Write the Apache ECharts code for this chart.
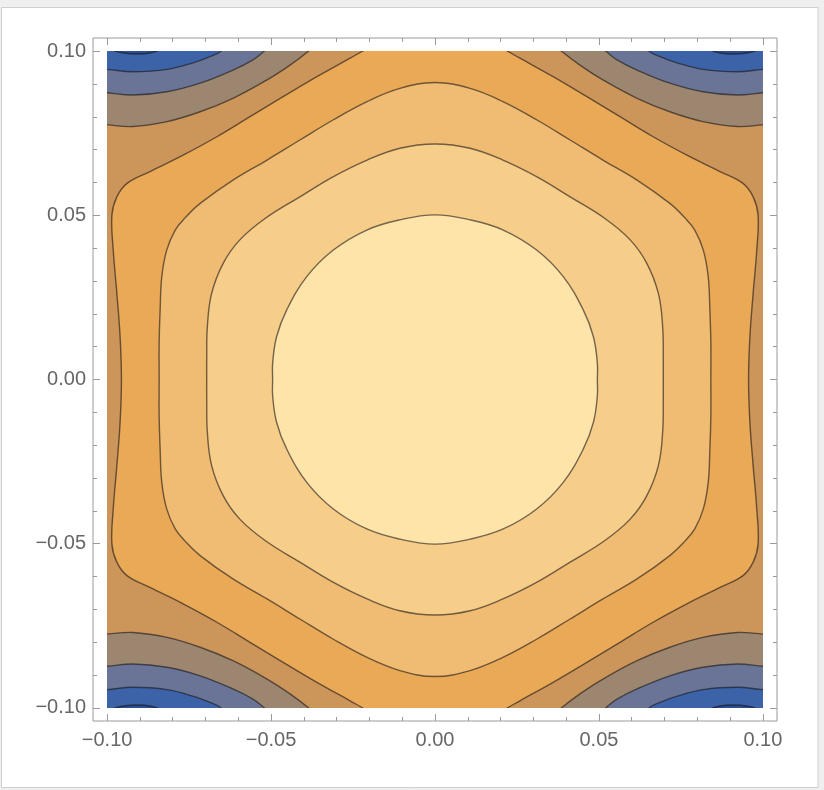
<!DOCTYPE html>
<html>
<head>
<meta charset="utf-8">
<script src="https://cdn.jsdelivr.net/npm/echarts@6/dist/echarts.min.js"></script>
<style>
html, body { margin: 0; padding: 0; background: #efefef; }
#main { width: 824px; height: 790px; }
</style>
</head>
<body>
<div id="main"></div>
<script>
// tick values
let majorTicks = [-0.1, -0.05, 0, 0.05, 0.1]
let minorTicks = [-0.09, -0.08, -0.07, -0.06, -0.04, -0.03, -0.02, -0.01,
    0.01, 0.02, 0.03, 0.04, 0.06, 0.07, 0.08, 0.09]

// closed contours, top-left quarter only (top -> left edge of the quarter)
let ring1 = [[0, 0.0501], [-0.0107, 0.0486], [-0.0208, 0.0455], [-0.031, 0.0394], [-0.0391, 0.0313],
    [-0.0452, 0.0212], [-0.0483, 0.013], [-0.0495, 0.0049], [-0.0495, 0]]
let ring2 = [[0, 0.0717], [-0.0107, 0.0704], [-0.0207, 0.0668], [-0.0311, 0.0617], [-0.0412, 0.0556],
    [-0.0518, 0.049], [-0.0595, 0.0425], [-0.0645, 0.0355], [-0.0681, 0.0262], [-0.0694, 0.0161],
    [-0.0696, 0.0059], [-0.0696, 0]]
let ring3 = [[0, 0.0904], [-0.0107, 0.0886], [-0.0207, 0.0846], [-0.0311, 0.079], [-0.0412, 0.0729],
    [-0.0512, 0.0668], [-0.0616, 0.0607], [-0.0716, 0.0536], [-0.0762, 0.0492], [-0.0792, 0.0455],
    [-0.0818, 0.0394], [-0.0833, 0.0313], [-0.0838, 0.0212], [-0.0841, 0.0111], [-0.0841, 0]]
// this one leaves the plot at the top (first point lies outside)
let ring4 = [[0, 0.112], [-0.022, 0.1], [-0.0259, 0.0978], [-0.036, 0.0922], [-0.0463, 0.0861],
    [-0.0564, 0.08], [-0.0665, 0.0739], [-0.0768, 0.0683], [-0.0869, 0.0633], [-0.0939, 0.0597],
    [-0.097, 0.0556], [-0.0985, 0.0501], [-0.0981, 0.0394], [-0.097, 0.0263], [-0.096, 0.0129],
    [-0.0956, 0]]

// corner contours, top-left corner (left edge -> top edge, end points just outside)
let band1 = [[-0.107, 0.0778], [-0.1, 0.0775], [-0.0921, 0.077], [-0.0817, 0.0785], [-0.0716, 0.0815],
    [-0.0616, 0.0856], [-0.0512, 0.0912], [-0.0442, 0.0957], [-0.0385, 0.1], [-0.034, 0.104]]
let band2 = [[-0.107, 0.0878], [-0.1, 0.0873], [-0.0921, 0.0866], [-0.0817, 0.0876], [-0.0716, 0.0902],
    [-0.0616, 0.0942], [-0.0555, 0.0973], [-0.052, 0.1], [-0.047, 0.104]]
let band3 = [[-0.107, 0.0948], [-0.1, 0.0944], [-0.0921, 0.0937], [-0.0817, 0.0944], [-0.0738, 0.0964],
    [-0.0686, 0.0983], [-0.0652, 0.1], [-0.062, 0.104]]
let band4 = [[-0.0985, 0.1005], [-0.095, 0.0994], [-0.091, 0.0991], [-0.087, 0.0994], [-0.0845, 0.1005]]

let plotRange = [-0.1, 0.1]

let colors = ['#cc955a', '#9d8670', '#6a7496', '#3c63a8', '#2c4c93',
    '#e9a957', '#f0bb72', '#f7cd8a', '#fee4a9']
let lineColor = 'rgba(25, 22, 20, 0.6)'

// whole loop from a top-left quarter (mirror in both axes)
function fullRing(q) {
    let a = q
    let b = q.slice().reverse().map(p => [p[0], -p[1]])
    let c = q.map(p => [-p[0], -p[1]])
    let d = q.slice().reverse().map(p => [-p[0], p[1]])
    return a.concat(b.slice(1), c.slice(1), d.slice(1, -1))
}

// same corner band in all four corners
function corners(band) {
    let poly = band.concat([[-0.115, 0.115]])
    return [
        poly,
        poly.map(p => [-p[0], p[1]]),
        poly.map(p => [p[0], -p[1]]),
        poly.map(p => [-p[0], -p[1]])
    ]
}

let layers = []
let lo = plotRange[0], hi = plotRange[1]
layers.push({ points: [[lo, lo], [hi, lo], [hi, hi], [lo, hi]], fill: colors[0], smooth: 0, line: false })
;[band1, band2, band3, band4].forEach((b, i) => {
    corners(b).forEach(p => layers.push({ points: p, fill: colors[i + 1], smooth: 0.4, line: true }))
})
;[ring4, ring3, ring2, ring1].forEach((r, i) => {
    layers.push({ points: fullRing(r), fill: colors[i + 5], smooth: 0.4, line: true })
})

function renderItem(params, api) {
    let layer = layers[params.dataIndex]
    return {
        type: 'polygon',
        shape: { points: layer.points.map(p => api.coord(p)), smooth: layer.smooth },
        style: {
            fill: layer.fill,
            stroke: layer.line ? lineColor : 'none',
            lineWidth: 1.4
        }
    }
}

function fmt(v) {
    return (v < 0 ? '\u2212' : '') + Math.abs(v).toFixed(2)
}

let frameX = 0.1043, frameY = 0.104
let tickColor = '#9a9a9a'
let labelStyle = { color: '#666', fontSize: 20, fontFamily: 'Liberation Sans' }

// frame axis helper: major (with labels) or minor ticks
function frameAxis(pos, values, len, labels, isX) {
    return {
        type: 'value',
        gridIndex: 1,
        position: pos,
        min: isX ? -frameX : -frameY,
        max: isX ? frameX : frameY,
        axisLine: { show: false, onZero: false },
        splitLine: { show: false },
        axisTick: { show: true, inside: true, length: len, customValues: values,
            lineStyle: { color: tickColor, width: 1 } },
        axisLabel: labels ? Object.assign({ show: true, customValues: values, formatter: fmt,
            margin: isX ? 9 : 7 }, labelStyle) : { show: false }
    }
}

var myChart = echarts.init(document.getElementById('main'))

var option = {
    backgroundColor: '#efefef',
    animation: false,
    graphic: [{
        type: 'rect', z: -100,
        shape: { x: 1.5, y: 7.5, width: 816.5, height: 780 },
        style: { fill: '#ffffff', stroke: '#cfcfcf', lineWidth: 1 }
    }],
    grid: [
        { left: 107, top: 51, width: 656, height: 657 },
        { left: 93, top: 38, width: 684, height: 683, show: true, borderColor: '#9a9a9a', borderWidth: 1,
            backgroundColor: 'transparent' }
    ],
    xAxis: [
        { type: 'value', gridIndex: 0, min: lo, max: hi, show: false },
        frameAxis('bottom', majorTicks, 7, true, true),
        frameAxis('bottom', minorTicks, 4, false, true),
        frameAxis('top', majorTicks, 7, false, true),
        frameAxis('top', minorTicks, 4, false, true)
    ],
    yAxis: [
        { type: 'value', gridIndex: 0, min: lo, max: hi, show: false },
        frameAxis('left', majorTicks, 7, true, false),
        frameAxis('left', minorTicks, 4, false, false),
        frameAxis('right', majorTicks, 7, false, false),
        frameAxis('right', minorTicks, 4, false, false)
    ],
    series: [{
        type: 'custom',
        coordinateSystem: 'cartesian2d',
        xAxisIndex: 0,
        yAxisIndex: 0,
        clip: true,
        silent: true,
        renderItem: renderItem,
        encode: { x: 0, y: 1 },
        data: layers.map((l, i) => [0, 0, i])
    }]
}

myChart.setOption(option)
</script>
</body>
</html>
